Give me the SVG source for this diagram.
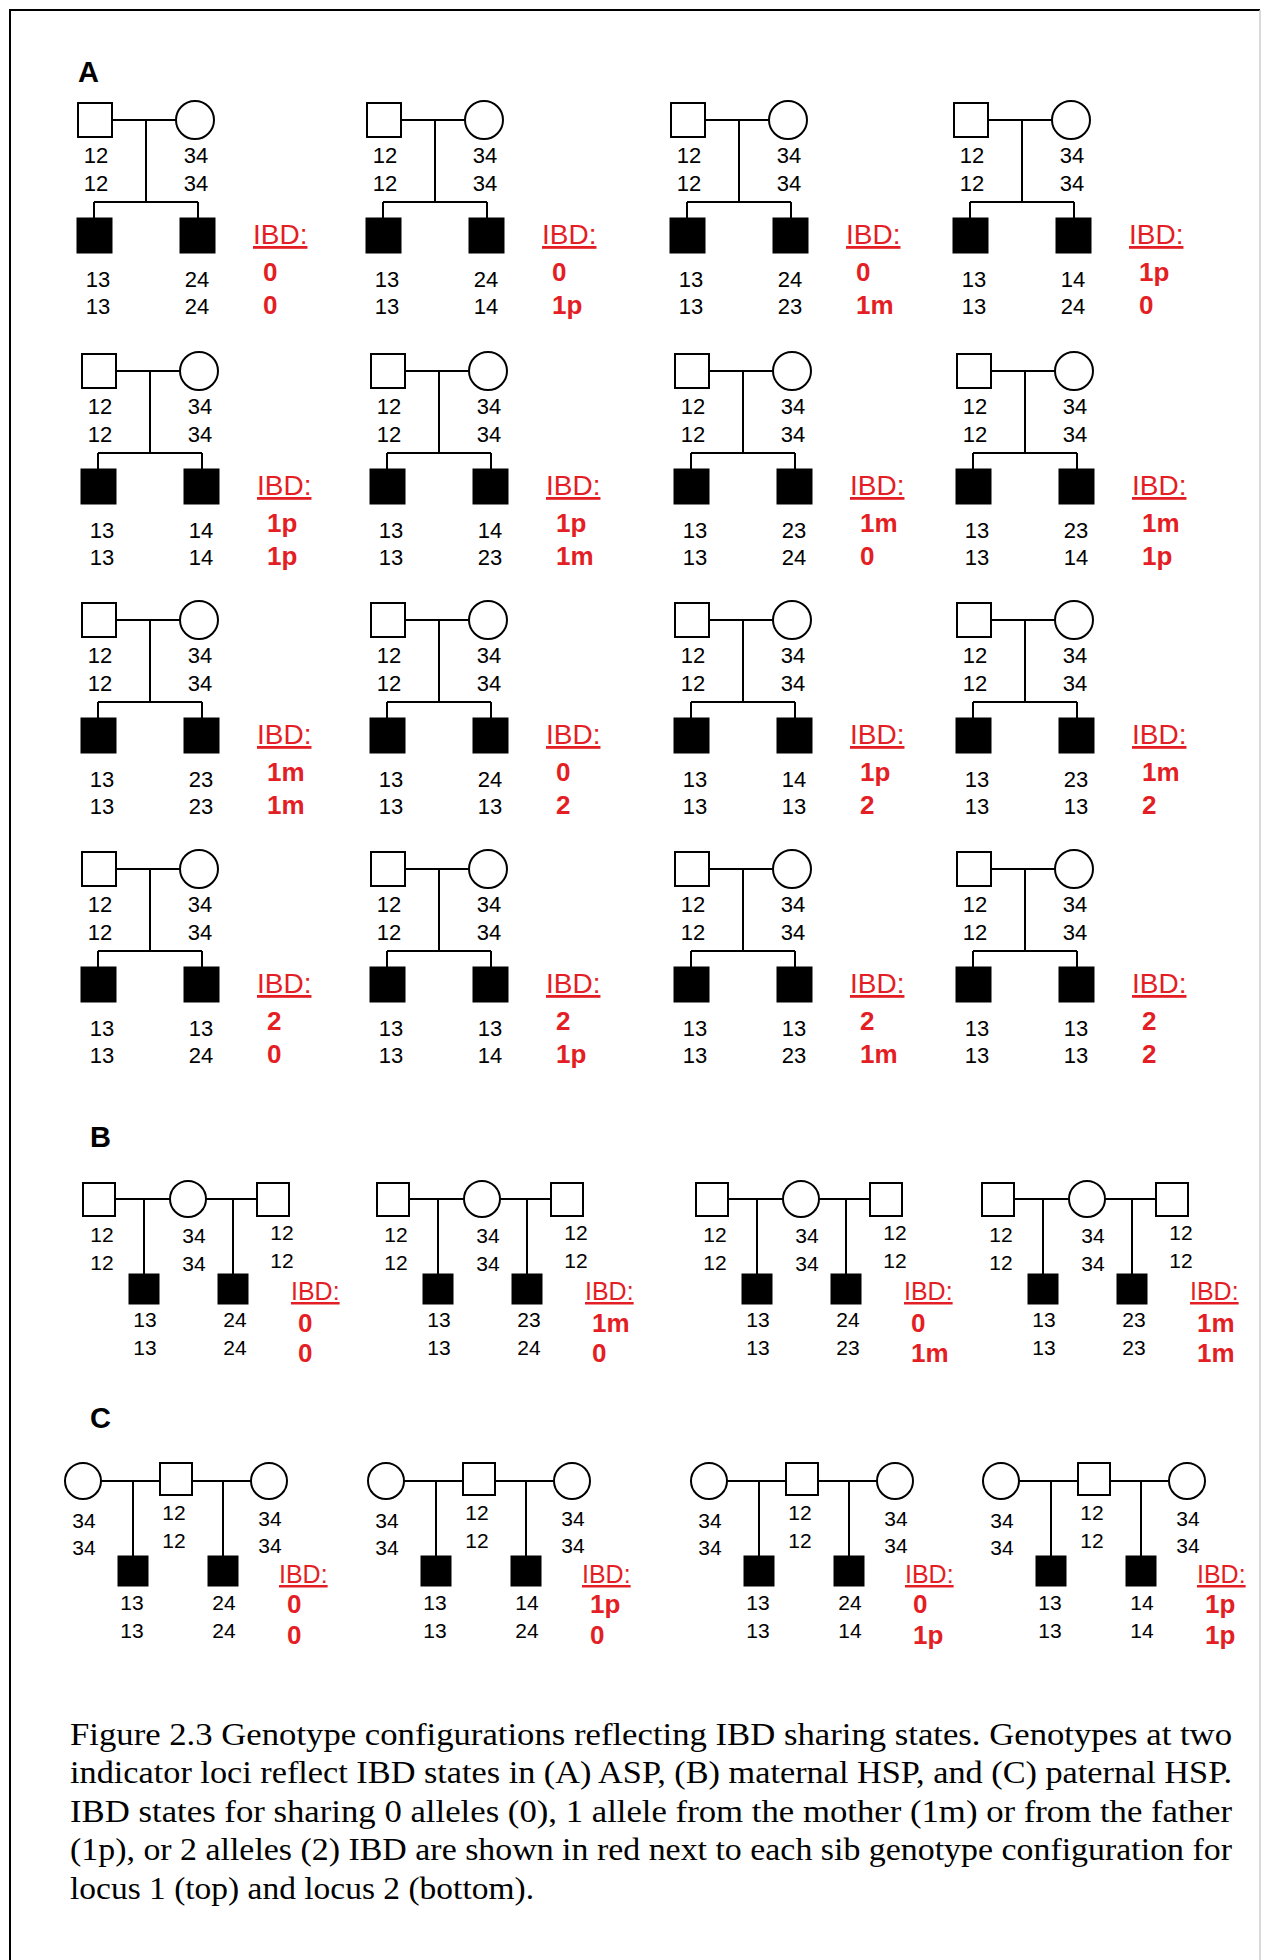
<svg xmlns="http://www.w3.org/2000/svg" width="1269" height="1960" viewBox="0 0 1269 1960">
<style>
.ln{stroke:#000;stroke-width:2;fill:none}
.o{fill:#fff;stroke:#000;stroke-width:2}
.a{fill:#000;stroke:#000;stroke-width:1}
text{font-family:"Liberation Sans",Arial,sans-serif;fill:#000}
.g{font-size:22px;text-anchor:middle}
.gb{font-size:21px;text-anchor:middle}
.ibd{font-size:28px;fill:#e31e24;text-decoration:underline}
.ibdb{font-size:25px;fill:#e31e24;text-decoration:underline}
.r{font-size:26px;font-weight:bold;fill:#e31e24}
.lab{font-size:29px;font-weight:bold}
.cap{font-family:"Liberation Serif","Times New Roman",serif;font-size:32px}
</style>
<rect width="1269" height="1960" fill="#fff"/>
<path d="M10 1960V10H1260" fill="none" stroke="#000" stroke-width="2"/>
<path d="M1260 10V1960" fill="none" stroke="#ccc" stroke-width="1.5"/>

<text class="lab" x="78" y="82">A</text>
<text class="lab" x="90" y="1147">B</text>
<text class="lab" x="90" y="1428">C</text>

<g id="connectors" class="ln">
<path transform="translate(78,103)" d="M34 17H98M68 17V99M16 99H120M16 99V115M120 99V115"/>
<path transform="translate(367,103)" d="M34 17H98M68 17V99M16 99H120M16 99V115M120 99V115"/>
<path transform="translate(671,103)" d="M34 17H98M68 17V99M16 99H120M16 99V115M120 99V115"/>
<path transform="translate(954,103)" d="M34 17H98M68 17V99M16 99H120M16 99V115M120 99V115"/>
<path transform="translate(82,354)" d="M34 17H98M68 17V99M16 99H120M16 99V115M120 99V115"/>
<path transform="translate(371,354)" d="M34 17H98M68 17V99M16 99H120M16 99V115M120 99V115"/>
<path transform="translate(675,354)" d="M34 17H98M68 17V99M16 99H120M16 99V115M120 99V115"/>
<path transform="translate(957,354)" d="M34 17H98M68 17V99M16 99H120M16 99V115M120 99V115"/>
<path transform="translate(82,603)" d="M34 17H98M68 17V99M16 99H120M16 99V115M120 99V115"/>
<path transform="translate(371,603)" d="M34 17H98M68 17V99M16 99H120M16 99V115M120 99V115"/>
<path transform="translate(675,603)" d="M34 17H98M68 17V99M16 99H120M16 99V115M120 99V115"/>
<path transform="translate(957,603)" d="M34 17H98M68 17V99M16 99H120M16 99V115M120 99V115"/>
<path transform="translate(82,852)" d="M34 17H98M68 17V99M16 99H120M16 99V115M120 99V115"/>
<path transform="translate(371,852)" d="M34 17H98M68 17V99M16 99H120M16 99V115M120 99V115"/>
<path transform="translate(675,852)" d="M34 17H98M68 17V99M16 99H120M16 99V115M120 99V115"/>
<path transform="translate(957,852)" d="M34 17H98M68 17V99M16 99H120M16 99V115M120 99V115"/>
<path transform="translate(83,1183)" d="M32 16H87M123 16H174M61 16V91M150 16V91"/>
<path transform="translate(377,1183)" d="M32 16H87M123 16H174M61 16V91M150 16V91"/>
<path transform="translate(696,1183)" d="M32 16H87M123 16H174M61 16V91M150 16V91"/>
<path transform="translate(982,1183)" d="M32 16H87M123 16H174M61 16V91M150 16V91"/>
<path transform="translate(83,1481)" d="M18 0H77M109 0H168M50 0V75M140 0V75"/>
<path transform="translate(386,1481)" d="M18 0H77M109 0H168M50 0V75M140 0V75"/>
<path transform="translate(709,1481)" d="M18 0H77M109 0H168M50 0V75M140 0V75"/>
<path transform="translate(1001,1481)" d="M18 0H77M109 0H168M50 0V75M140 0V75"/>
</g>

<g id="pedigreesA">
<g id="A1" transform="translate(78,103)">
<g id="A1-father"><rect class="o" x="0" y="0" width="34" height="34"/><text class="g" x="18" y="60">12</text><text class="g" x="18" y="88">12</text></g>
<g id="A1-mother"><circle class="o" cx="117" cy="17" r="19"/><text class="g" x="118" y="60">34</text><text class="g" x="118" y="88">34</text></g>
<g id="A1-sib1"><rect class="a" x="-1" y="115" width="35" height="35"/><text class="g" x="20" y="184">13</text><text class="g" x="20" y="211">13</text></g>
<g id="A1-sib2"><rect class="a" x="102" y="115" width="35" height="35"/><text class="g" x="119" y="184">24</text><text class="g" x="119" y="211">24</text></g>
<g id="A1-ibd"><text class="ibd" x="175" y="141">IBD:</text><text class="r" x="185" y="178">0</text><text class="r" x="185" y="211">0</text></g>
</g>
<g id="A2" transform="translate(367,103)">
<g id="A2-father"><rect class="o" x="0" y="0" width="34" height="34"/><text class="g" x="18" y="60">12</text><text class="g" x="18" y="88">12</text></g>
<g id="A2-mother"><circle class="o" cx="117" cy="17" r="19"/><text class="g" x="118" y="60">34</text><text class="g" x="118" y="88">34</text></g>
<g id="A2-sib1"><rect class="a" x="-1" y="115" width="35" height="35"/><text class="g" x="20" y="184">13</text><text class="g" x="20" y="211">13</text></g>
<g id="A2-sib2"><rect class="a" x="102" y="115" width="35" height="35"/><text class="g" x="119" y="184">24</text><text class="g" x="119" y="211">14</text></g>
<g id="A2-ibd"><text class="ibd" x="175" y="141">IBD:</text><text class="r" x="185" y="178">0</text><text class="r" x="185" y="211">1p</text></g>
</g>
<g id="A3" transform="translate(671,103)">
<g id="A3-father"><rect class="o" x="0" y="0" width="34" height="34"/><text class="g" x="18" y="60">12</text><text class="g" x="18" y="88">12</text></g>
<g id="A3-mother"><circle class="o" cx="117" cy="17" r="19"/><text class="g" x="118" y="60">34</text><text class="g" x="118" y="88">34</text></g>
<g id="A3-sib1"><rect class="a" x="-1" y="115" width="35" height="35"/><text class="g" x="20" y="184">13</text><text class="g" x="20" y="211">13</text></g>
<g id="A3-sib2"><rect class="a" x="102" y="115" width="35" height="35"/><text class="g" x="119" y="184">24</text><text class="g" x="119" y="211">23</text></g>
<g id="A3-ibd"><text class="ibd" x="175" y="141">IBD:</text><text class="r" x="185" y="178">0</text><text class="r" x="185" y="211">1m</text></g>
</g>
<g id="A4" transform="translate(954,103)">
<g id="A4-father"><rect class="o" x="0" y="0" width="34" height="34"/><text class="g" x="18" y="60">12</text><text class="g" x="18" y="88">12</text></g>
<g id="A4-mother"><circle class="o" cx="117" cy="17" r="19"/><text class="g" x="118" y="60">34</text><text class="g" x="118" y="88">34</text></g>
<g id="A4-sib1"><rect class="a" x="-1" y="115" width="35" height="35"/><text class="g" x="20" y="184">13</text><text class="g" x="20" y="211">13</text></g>
<g id="A4-sib2"><rect class="a" x="102" y="115" width="35" height="35"/><text class="g" x="119" y="184">14</text><text class="g" x="119" y="211">24</text></g>
<g id="A4-ibd"><text class="ibd" x="175" y="141">IBD:</text><text class="r" x="185" y="178">1p</text><text class="r" x="185" y="211">0</text></g>
</g>
<g id="A5" transform="translate(82,354)">
<g id="A5-father"><rect class="o" x="0" y="0" width="34" height="34"/><text class="g" x="18" y="60">12</text><text class="g" x="18" y="88">12</text></g>
<g id="A5-mother"><circle class="o" cx="117" cy="17" r="19"/><text class="g" x="118" y="60">34</text><text class="g" x="118" y="88">34</text></g>
<g id="A5-sib1"><rect class="a" x="-1" y="115" width="35" height="35"/><text class="g" x="20" y="184">13</text><text class="g" x="20" y="211">13</text></g>
<g id="A5-sib2"><rect class="a" x="102" y="115" width="35" height="35"/><text class="g" x="119" y="184">14</text><text class="g" x="119" y="211">14</text></g>
<g id="A5-ibd"><text class="ibd" x="175" y="141">IBD:</text><text class="r" x="185" y="178">1p</text><text class="r" x="185" y="211">1p</text></g>
</g>
<g id="A6" transform="translate(371,354)">
<g id="A6-father"><rect class="o" x="0" y="0" width="34" height="34"/><text class="g" x="18" y="60">12</text><text class="g" x="18" y="88">12</text></g>
<g id="A6-mother"><circle class="o" cx="117" cy="17" r="19"/><text class="g" x="118" y="60">34</text><text class="g" x="118" y="88">34</text></g>
<g id="A6-sib1"><rect class="a" x="-1" y="115" width="35" height="35"/><text class="g" x="20" y="184">13</text><text class="g" x="20" y="211">13</text></g>
<g id="A6-sib2"><rect class="a" x="102" y="115" width="35" height="35"/><text class="g" x="119" y="184">14</text><text class="g" x="119" y="211">23</text></g>
<g id="A6-ibd"><text class="ibd" x="175" y="141">IBD:</text><text class="r" x="185" y="178">1p</text><text class="r" x="185" y="211">1m</text></g>
</g>
<g id="A7" transform="translate(675,354)">
<g id="A7-father"><rect class="o" x="0" y="0" width="34" height="34"/><text class="g" x="18" y="60">12</text><text class="g" x="18" y="88">12</text></g>
<g id="A7-mother"><circle class="o" cx="117" cy="17" r="19"/><text class="g" x="118" y="60">34</text><text class="g" x="118" y="88">34</text></g>
<g id="A7-sib1"><rect class="a" x="-1" y="115" width="35" height="35"/><text class="g" x="20" y="184">13</text><text class="g" x="20" y="211">13</text></g>
<g id="A7-sib2"><rect class="a" x="102" y="115" width="35" height="35"/><text class="g" x="119" y="184">23</text><text class="g" x="119" y="211">24</text></g>
<g id="A7-ibd"><text class="ibd" x="175" y="141">IBD:</text><text class="r" x="185" y="178">1m</text><text class="r" x="185" y="211">0</text></g>
</g>
<g id="A8" transform="translate(957,354)">
<g id="A8-father"><rect class="o" x="0" y="0" width="34" height="34"/><text class="g" x="18" y="60">12</text><text class="g" x="18" y="88">12</text></g>
<g id="A8-mother"><circle class="o" cx="117" cy="17" r="19"/><text class="g" x="118" y="60">34</text><text class="g" x="118" y="88">34</text></g>
<g id="A8-sib1"><rect class="a" x="-1" y="115" width="35" height="35"/><text class="g" x="20" y="184">13</text><text class="g" x="20" y="211">13</text></g>
<g id="A8-sib2"><rect class="a" x="102" y="115" width="35" height="35"/><text class="g" x="119" y="184">23</text><text class="g" x="119" y="211">14</text></g>
<g id="A8-ibd"><text class="ibd" x="175" y="141">IBD:</text><text class="r" x="185" y="178">1m</text><text class="r" x="185" y="211">1p</text></g>
</g>
<g id="A9" transform="translate(82,603)">
<g id="A9-father"><rect class="o" x="0" y="0" width="34" height="34"/><text class="g" x="18" y="60">12</text><text class="g" x="18" y="88">12</text></g>
<g id="A9-mother"><circle class="o" cx="117" cy="17" r="19"/><text class="g" x="118" y="60">34</text><text class="g" x="118" y="88">34</text></g>
<g id="A9-sib1"><rect class="a" x="-1" y="115" width="35" height="35"/><text class="g" x="20" y="184">13</text><text class="g" x="20" y="211">13</text></g>
<g id="A9-sib2"><rect class="a" x="102" y="115" width="35" height="35"/><text class="g" x="119" y="184">23</text><text class="g" x="119" y="211">23</text></g>
<g id="A9-ibd"><text class="ibd" x="175" y="141">IBD:</text><text class="r" x="185" y="178">1m</text><text class="r" x="185" y="211">1m</text></g>
</g>
<g id="A10" transform="translate(371,603)">
<g id="A10-father"><rect class="o" x="0" y="0" width="34" height="34"/><text class="g" x="18" y="60">12</text><text class="g" x="18" y="88">12</text></g>
<g id="A10-mother"><circle class="o" cx="117" cy="17" r="19"/><text class="g" x="118" y="60">34</text><text class="g" x="118" y="88">34</text></g>
<g id="A10-sib1"><rect class="a" x="-1" y="115" width="35" height="35"/><text class="g" x="20" y="184">13</text><text class="g" x="20" y="211">13</text></g>
<g id="A10-sib2"><rect class="a" x="102" y="115" width="35" height="35"/><text class="g" x="119" y="184">24</text><text class="g" x="119" y="211">13</text></g>
<g id="A10-ibd"><text class="ibd" x="175" y="141">IBD:</text><text class="r" x="185" y="178">0</text><text class="r" x="185" y="211">2</text></g>
</g>
<g id="A11" transform="translate(675,603)">
<g id="A11-father"><rect class="o" x="0" y="0" width="34" height="34"/><text class="g" x="18" y="60">12</text><text class="g" x="18" y="88">12</text></g>
<g id="A11-mother"><circle class="o" cx="117" cy="17" r="19"/><text class="g" x="118" y="60">34</text><text class="g" x="118" y="88">34</text></g>
<g id="A11-sib1"><rect class="a" x="-1" y="115" width="35" height="35"/><text class="g" x="20" y="184">13</text><text class="g" x="20" y="211">13</text></g>
<g id="A11-sib2"><rect class="a" x="102" y="115" width="35" height="35"/><text class="g" x="119" y="184">14</text><text class="g" x="119" y="211">13</text></g>
<g id="A11-ibd"><text class="ibd" x="175" y="141">IBD:</text><text class="r" x="185" y="178">1p</text><text class="r" x="185" y="211">2</text></g>
</g>
<g id="A12" transform="translate(957,603)">
<g id="A12-father"><rect class="o" x="0" y="0" width="34" height="34"/><text class="g" x="18" y="60">12</text><text class="g" x="18" y="88">12</text></g>
<g id="A12-mother"><circle class="o" cx="117" cy="17" r="19"/><text class="g" x="118" y="60">34</text><text class="g" x="118" y="88">34</text></g>
<g id="A12-sib1"><rect class="a" x="-1" y="115" width="35" height="35"/><text class="g" x="20" y="184">13</text><text class="g" x="20" y="211">13</text></g>
<g id="A12-sib2"><rect class="a" x="102" y="115" width="35" height="35"/><text class="g" x="119" y="184">23</text><text class="g" x="119" y="211">13</text></g>
<g id="A12-ibd"><text class="ibd" x="175" y="141">IBD:</text><text class="r" x="185" y="178">1m</text><text class="r" x="185" y="211">2</text></g>
</g>
<g id="A13" transform="translate(82,852)">
<g id="A13-father"><rect class="o" x="0" y="0" width="34" height="34"/><text class="g" x="18" y="60">12</text><text class="g" x="18" y="88">12</text></g>
<g id="A13-mother"><circle class="o" cx="117" cy="17" r="19"/><text class="g" x="118" y="60">34</text><text class="g" x="118" y="88">34</text></g>
<g id="A13-sib1"><rect class="a" x="-1" y="115" width="35" height="35"/><text class="g" x="20" y="184">13</text><text class="g" x="20" y="211">13</text></g>
<g id="A13-sib2"><rect class="a" x="102" y="115" width="35" height="35"/><text class="g" x="119" y="184">13</text><text class="g" x="119" y="211">24</text></g>
<g id="A13-ibd"><text class="ibd" x="175" y="141">IBD:</text><text class="r" x="185" y="178">2</text><text class="r" x="185" y="211">0</text></g>
</g>
<g id="A14" transform="translate(371,852)">
<g id="A14-father"><rect class="o" x="0" y="0" width="34" height="34"/><text class="g" x="18" y="60">12</text><text class="g" x="18" y="88">12</text></g>
<g id="A14-mother"><circle class="o" cx="117" cy="17" r="19"/><text class="g" x="118" y="60">34</text><text class="g" x="118" y="88">34</text></g>
<g id="A14-sib1"><rect class="a" x="-1" y="115" width="35" height="35"/><text class="g" x="20" y="184">13</text><text class="g" x="20" y="211">13</text></g>
<g id="A14-sib2"><rect class="a" x="102" y="115" width="35" height="35"/><text class="g" x="119" y="184">13</text><text class="g" x="119" y="211">14</text></g>
<g id="A14-ibd"><text class="ibd" x="175" y="141">IBD:</text><text class="r" x="185" y="178">2</text><text class="r" x="185" y="211">1p</text></g>
</g>
<g id="A15" transform="translate(675,852)">
<g id="A15-father"><rect class="o" x="0" y="0" width="34" height="34"/><text class="g" x="18" y="60">12</text><text class="g" x="18" y="88">12</text></g>
<g id="A15-mother"><circle class="o" cx="117" cy="17" r="19"/><text class="g" x="118" y="60">34</text><text class="g" x="118" y="88">34</text></g>
<g id="A15-sib1"><rect class="a" x="-1" y="115" width="35" height="35"/><text class="g" x="20" y="184">13</text><text class="g" x="20" y="211">13</text></g>
<g id="A15-sib2"><rect class="a" x="102" y="115" width="35" height="35"/><text class="g" x="119" y="184">13</text><text class="g" x="119" y="211">23</text></g>
<g id="A15-ibd"><text class="ibd" x="175" y="141">IBD:</text><text class="r" x="185" y="178">2</text><text class="r" x="185" y="211">1m</text></g>
</g>
<g id="A16" transform="translate(957,852)">
<g id="A16-father"><rect class="o" x="0" y="0" width="34" height="34"/><text class="g" x="18" y="60">12</text><text class="g" x="18" y="88">12</text></g>
<g id="A16-mother"><circle class="o" cx="117" cy="17" r="19"/><text class="g" x="118" y="60">34</text><text class="g" x="118" y="88">34</text></g>
<g id="A16-sib1"><rect class="a" x="-1" y="115" width="35" height="35"/><text class="g" x="20" y="184">13</text><text class="g" x="20" y="211">13</text></g>
<g id="A16-sib2"><rect class="a" x="102" y="115" width="35" height="35"/><text class="g" x="119" y="184">13</text><text class="g" x="119" y="211">13</text></g>
<g id="A16-ibd"><text class="ibd" x="175" y="141">IBD:</text><text class="r" x="185" y="178">2</text><text class="r" x="185" y="211">2</text></g>
</g>
</g>

<g id="pedigreesB">
<g id="B1" transform="translate(83,1183)">
<g id="B1-father1"><rect class="o" x="0" y="0" width="32" height="33"/><text class="gb" x="19" y="59">12</text><text class="gb" x="19" y="87">12</text></g>
<g id="B1-mother"><circle class="o" cx="105" cy="16" r="18"/><text class="gb" x="111" y="60">34</text><text class="gb" x="111" y="88">34</text></g>
<g id="B1-father2"><rect class="o" x="174" y="0" width="32" height="33"/><text class="gb" x="199" y="57">12</text><text class="gb" x="199" y="85">12</text></g>
<g id="B1-sib1"><rect class="a" x="46" y="91" width="30" height="30"/><text class="gb" x="62" y="144">13</text><text class="gb" x="62" y="172">13</text></g>
<g id="B1-sib2"><rect class="a" x="135" y="91" width="30" height="30"/><text class="gb" x="152" y="144">24</text><text class="gb" x="152" y="172">24</text></g>
<g id="B1-ibd"><text class="ibdb" x="208" y="117">IBD:</text><text class="r" x="215" y="149">0</text><text class="r" x="215" y="179">0</text></g>
</g>
<g id="B2" transform="translate(377,1183)">
<g id="B2-father1"><rect class="o" x="0" y="0" width="32" height="33"/><text class="gb" x="19" y="59">12</text><text class="gb" x="19" y="87">12</text></g>
<g id="B2-mother"><circle class="o" cx="105" cy="16" r="18"/><text class="gb" x="111" y="60">34</text><text class="gb" x="111" y="88">34</text></g>
<g id="B2-father2"><rect class="o" x="174" y="0" width="32" height="33"/><text class="gb" x="199" y="57">12</text><text class="gb" x="199" y="85">12</text></g>
<g id="B2-sib1"><rect class="a" x="46" y="91" width="30" height="30"/><text class="gb" x="62" y="144">13</text><text class="gb" x="62" y="172">13</text></g>
<g id="B2-sib2"><rect class="a" x="135" y="91" width="30" height="30"/><text class="gb" x="152" y="144">23</text><text class="gb" x="152" y="172">24</text></g>
<g id="B2-ibd"><text class="ibdb" x="208" y="117">IBD:</text><text class="r" x="215" y="149">1m</text><text class="r" x="215" y="179">0</text></g>
</g>
<g id="B3" transform="translate(696,1183)">
<g id="B3-father1"><rect class="o" x="0" y="0" width="32" height="33"/><text class="gb" x="19" y="59">12</text><text class="gb" x="19" y="87">12</text></g>
<g id="B3-mother"><circle class="o" cx="105" cy="16" r="18"/><text class="gb" x="111" y="60">34</text><text class="gb" x="111" y="88">34</text></g>
<g id="B3-father2"><rect class="o" x="174" y="0" width="32" height="33"/><text class="gb" x="199" y="57">12</text><text class="gb" x="199" y="85">12</text></g>
<g id="B3-sib1"><rect class="a" x="46" y="91" width="30" height="30"/><text class="gb" x="62" y="144">13</text><text class="gb" x="62" y="172">13</text></g>
<g id="B3-sib2"><rect class="a" x="135" y="91" width="30" height="30"/><text class="gb" x="152" y="144">24</text><text class="gb" x="152" y="172">23</text></g>
<g id="B3-ibd"><text class="ibdb" x="208" y="117">IBD:</text><text class="r" x="215" y="149">0</text><text class="r" x="215" y="179">1m</text></g>
</g>
<g id="B4" transform="translate(982,1183)">
<g id="B4-father1"><rect class="o" x="0" y="0" width="32" height="33"/><text class="gb" x="19" y="59">12</text><text class="gb" x="19" y="87">12</text></g>
<g id="B4-mother"><circle class="o" cx="105" cy="16" r="18"/><text class="gb" x="111" y="60">34</text><text class="gb" x="111" y="88">34</text></g>
<g id="B4-father2"><rect class="o" x="174" y="0" width="32" height="33"/><text class="gb" x="199" y="57">12</text><text class="gb" x="199" y="85">12</text></g>
<g id="B4-sib1"><rect class="a" x="46" y="91" width="30" height="30"/><text class="gb" x="62" y="144">13</text><text class="gb" x="62" y="172">13</text></g>
<g id="B4-sib2"><rect class="a" x="135" y="91" width="30" height="30"/><text class="gb" x="152" y="144">23</text><text class="gb" x="152" y="172">23</text></g>
<g id="B4-ibd"><text class="ibdb" x="208" y="117">IBD:</text><text class="r" x="215" y="149">1m</text><text class="r" x="215" y="179">1m</text></g>
</g>
</g>

<g id="pedigreesC">
<g id="C1" transform="translate(83,1481)">
<g id="C1-mother1"><circle class="o" cx="0" cy="0" r="18"/><text class="gb" x="1" y="47">34</text><text class="gb" x="1" y="74">34</text></g>
<g id="C1-father"><rect class="o" x="77" y="-18" width="32" height="32"/><text class="gb" x="91" y="39">12</text><text class="gb" x="91" y="67">12</text></g>
<g id="C1-mother2"><circle class="o" cx="186" cy="0" r="18"/><text class="gb" x="187" y="45">34</text><text class="gb" x="187" y="72">34</text></g>
<g id="C1-sib1"><rect class="a" x="35" y="75" width="30" height="30"/><text class="gb" x="49" y="129">13</text><text class="gb" x="49" y="157">13</text></g>
<g id="C1-sib2"><rect class="a" x="125" y="75" width="30" height="30"/><text class="gb" x="141" y="129">24</text><text class="gb" x="141" y="157">24</text></g>
<g id="C1-ibd"><text class="ibdb" x="196" y="102">IBD:</text><text class="r" x="204" y="132">0</text><text class="r" x="204" y="163">0</text></g>
</g>
<g id="C2" transform="translate(386,1481)">
<g id="C2-mother1"><circle class="o" cx="0" cy="0" r="18"/><text class="gb" x="1" y="47">34</text><text class="gb" x="1" y="74">34</text></g>
<g id="C2-father"><rect class="o" x="77" y="-18" width="32" height="32"/><text class="gb" x="91" y="39">12</text><text class="gb" x="91" y="67">12</text></g>
<g id="C2-mother2"><circle class="o" cx="186" cy="0" r="18"/><text class="gb" x="187" y="45">34</text><text class="gb" x="187" y="72">34</text></g>
<g id="C2-sib1"><rect class="a" x="35" y="75" width="30" height="30"/><text class="gb" x="49" y="129">13</text><text class="gb" x="49" y="157">13</text></g>
<g id="C2-sib2"><rect class="a" x="125" y="75" width="30" height="30"/><text class="gb" x="141" y="129">14</text><text class="gb" x="141" y="157">24</text></g>
<g id="C2-ibd"><text class="ibdb" x="196" y="102">IBD:</text><text class="r" x="204" y="132">1p</text><text class="r" x="204" y="163">0</text></g>
</g>
<g id="C3" transform="translate(709,1481)">
<g id="C3-mother1"><circle class="o" cx="0" cy="0" r="18"/><text class="gb" x="1" y="47">34</text><text class="gb" x="1" y="74">34</text></g>
<g id="C3-father"><rect class="o" x="77" y="-18" width="32" height="32"/><text class="gb" x="91" y="39">12</text><text class="gb" x="91" y="67">12</text></g>
<g id="C3-mother2"><circle class="o" cx="186" cy="0" r="18"/><text class="gb" x="187" y="45">34</text><text class="gb" x="187" y="72">34</text></g>
<g id="C3-sib1"><rect class="a" x="35" y="75" width="30" height="30"/><text class="gb" x="49" y="129">13</text><text class="gb" x="49" y="157">13</text></g>
<g id="C3-sib2"><rect class="a" x="125" y="75" width="30" height="30"/><text class="gb" x="141" y="129">24</text><text class="gb" x="141" y="157">14</text></g>
<g id="C3-ibd"><text class="ibdb" x="196" y="102">IBD:</text><text class="r" x="204" y="132">0</text><text class="r" x="204" y="163">1p</text></g>
</g>
<g id="C4" transform="translate(1001,1481)">
<g id="C4-mother1"><circle class="o" cx="0" cy="0" r="18"/><text class="gb" x="1" y="47">34</text><text class="gb" x="1" y="74">34</text></g>
<g id="C4-father"><rect class="o" x="77" y="-18" width="32" height="32"/><text class="gb" x="91" y="39">12</text><text class="gb" x="91" y="67">12</text></g>
<g id="C4-mother2"><circle class="o" cx="186" cy="0" r="18"/><text class="gb" x="187" y="45">34</text><text class="gb" x="187" y="72">34</text></g>
<g id="C4-sib1"><rect class="a" x="35" y="75" width="30" height="30"/><text class="gb" x="49" y="129">13</text><text class="gb" x="49" y="157">13</text></g>
<g id="C4-sib2"><rect class="a" x="125" y="75" width="30" height="30"/><text class="gb" x="141" y="129">14</text><text class="gb" x="141" y="157">14</text></g>
<g id="C4-ibd"><text class="ibdb" x="196" y="102">IBD:</text><text class="r" x="204" y="132">1p</text><text class="r" x="204" y="163">1p</text></g>
</g>
</g>

<g id="caption" class="cap">
<text class="cap" x="70" y="1745" textLength="1162" lengthAdjust="spacingAndGlyphs">Figure 2.3 Genotype configurations reflecting IBD sharing states. Genotypes at two</text>
<text class="cap" x="70" y="1783" textLength="1162" lengthAdjust="spacingAndGlyphs">indicator loci reflect IBD states in (A) ASP, (B) maternal HSP, and (C) paternal HSP.</text>
<text class="cap" x="70" y="1822" textLength="1162" lengthAdjust="spacingAndGlyphs">IBD states for sharing 0 alleles (0), 1 allele from the mother (1m) or from the father</text>
<text class="cap" x="70" y="1860" textLength="1162" lengthAdjust="spacingAndGlyphs">(1p), or 2 alleles (2) IBD are shown in red next to each sib genotype configuration for</text>
<text class="cap" x="70" y="1899" textLength="464" lengthAdjust="spacingAndGlyphs">locus 1 (top) and locus 2 (bottom).</text>
</g>
</svg>
